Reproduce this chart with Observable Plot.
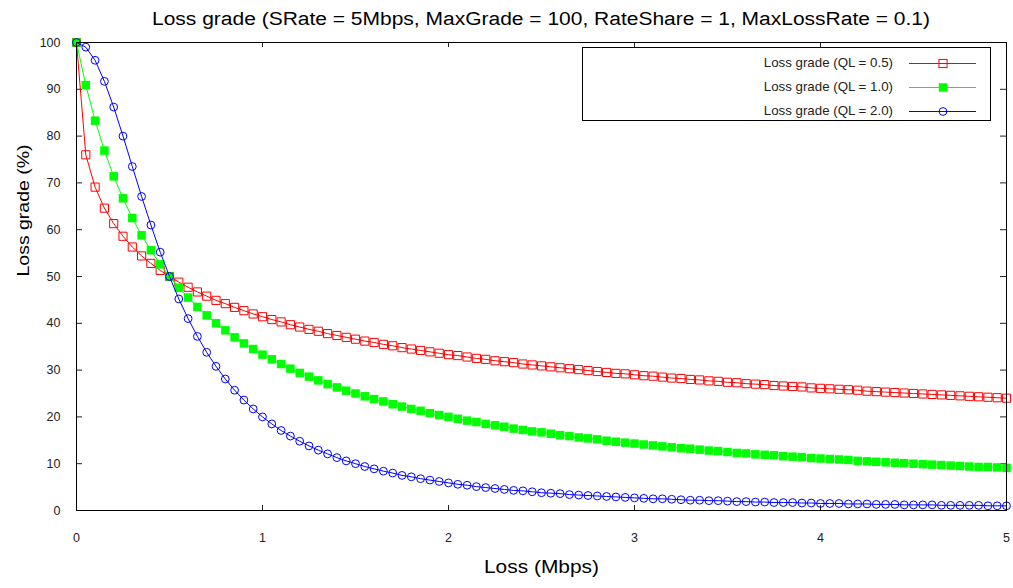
<!DOCTYPE html>
<html>
<head>
<meta charset="utf-8">
<script src="https://cdn.jsdelivr.net/npm/d3@7"></script>
<script src="https://cdn.jsdelivr.net/npm/@observablehq/plot@0.6"></script>
<style>
  html, body { margin: 0; padding: 0; background: #fff; }
  body { font-family: "Liberation Sans", Arial, sans-serif; }
  #wrap { position: relative; width: 1013px; height: 588px; overflow: hidden; }
  #wrap svg { display: block; }
  #legend { position: absolute; left: 582px; top: 47px; width: 409px; height: 74px; box-sizing: border-box;
            border: 1px solid #000; background: #fff; }
  #legend .lbl { position: absolute; left: 0; width: 310px; height: 16px; line-height: 16px; text-align: right;
                 font-size: 13.3px; color: #222; white-space: nowrap; }
  #legend .sym { position: absolute; left: 326px; width: 67px; height: 16px; }
</style>
</head>
<body>
<div id="wrap"></div>
<script>
// ---------- data ----------
const titleText = "Loss grade (SRate = 5Mbps, MaxGrade = 100, RateShare = 1, MaxLossRate = 0.1)";
const xLabel = "Loss (Mbps)";
const yLabel = "Loss grade (%)";
const xTicks = [0, 1, 2, 3, 4, 5];
const yTicks = [0, 10, 20, 30, 40, 50, 60, 70, 80, 90, 100];

const lossMbps = [0,0.05,0.1,0.15,0.2,0.25,0.3,0.35,0.4,0.45,0.5,0.55,0.6,0.65,0.7,0.75,0.8,0.85,0.9,0.95,
  1,1.05,1.1,1.15,1.2,1.25,1.3,1.35,1.4,1.45,1.5,1.55,1.6,1.65,1.7,1.75,1.8,1.85,1.9,1.95,
  2,2.05,2.1,2.15,2.2,2.25,2.3,2.35,2.4,2.45,2.5,2.55,2.6,2.65,2.7,2.75,2.8,2.85,2.9,2.95,
  3,3.05,3.1,3.15,3.2,3.25,3.3,3.35,3.4,3.45,3.5,3.55,3.6,3.65,3.7,3.75,3.8,3.85,3.9,3.95,
  4,4.05,4.1,4.15,4.2,4.25,4.3,4.35,4.4,4.45,4.5,4.55,4.6,4.65,4.7,4.75,4.8,4.85,4.9,4.95,5];

const gradeQL05 = [100,76.0,69.1,64.6,61.3,58.6,56.3,54.4,52.8,51.3,50,48.8,47.7,46.7,45.8,44.9,44.2,43.4,42.7,42.0,
  41.4,40.8,40.3,39.7,39.2,38.7,38.3,37.8,37.4,37.0,36.6,36.2,35.9,35.5,35.2,34.8,34.5,34.2,33.9,33.6,
  33.3,33.1,32.8,32.5,32.3,32.0,31.8,31.6,31.3,31.1,30.9,30.7,30.5,30.3,30.1,29.9,29.7,29.5,29.3,29.2,
  29.0,28.8,28.7,28.5,28.3,28.2,28.0,27.9,27.7,27.6,27.4,27.3,27.1,27.0,26.9,26.7,26.6,26.5,26.4,26.2,
  26.1,26.0,25.9,25.8,25.7,25.5,25.4,25.3,25.2,25.1,25.0,24.9,24.8,24.7,24.6,24.5,24.4,24.3,24.2,24.1,24.0];

const gradeQL10 = [100,90.9,83.3,76.9,71.4,66.7,62.5,58.8,55.6,52.6,50,47.6,45.5,43.5,41.7,40,38.5,37.0,35.7,34.5,
  33.3,32.3,31.3,30.3,29.4,28.6,27.8,27.0,26.3,25.6,25,24.4,23.8,23.3,22.7,22.2,21.7,21.3,20.8,20.4,
  20,19.6,19.2,18.9,18.5,18.2,17.9,17.5,17.2,16.9,16.7,16.4,16.1,15.9,15.6,15.4,15.2,14.9,14.7,14.5,
  14.3,14.1,13.9,13.7,13.5,13.3,13.2,13.0,12.8,12.7,12.5,12.3,12.2,12.0,11.9,11.8,11.6,11.5,11.4,11.2,
  11.1,11.0,10.9,10.8,10.6,10.5,10.4,10.3,10.2,10.1,10,9.9,9.8,9.7,9.6,9.5,9.4,9.3,9.3,9.2,9.1];

const gradeQL20 = [100,99.0,96.2,91.7,86.2,80,73.5,67.1,61.0,55.2,50,45.2,41.0,37.2,33.8,30.8,28.1,25.7,23.6,21.7,
  20,18.5,17.1,15.9,14.8,13.8,12.9,12.1,11.3,10.6,10,9.4,8.9,8.4,8.0,7.5,7.2,6.8,6.5,6.2,
  5.9,5.6,5.4,5.1,4.9,4.7,4.5,4.3,4.2,4.0,3.8,3.7,3.6,3.4,3.3,3.2,3.1,3.0,2.9,2.8,
  2.7,2.6,2.5,2.5,2.4,2.3,2.2,2.2,2.1,2.1,2.0,1.9,1.9,1.8,1.8,1.7,1.7,1.7,1.6,1.6,
  1.5,1.5,1.5,1.4,1.4,1.4,1.3,1.3,1.3,1.2,1.2,1.2,1.2,1.1,1.1,1.1,1.1,1.1,1.0,1.0,1.0];

const seriesNames = ["Loss grade (QL = 0.5)", "Loss grade (QL = 1.0)", "Loss grade (QL = 2.0)"];
const seriesColors = ["#ff0000", "#00ff00", "#0000ff"];
const seriesSymbols = ["square", "square", "circle"];
const seriesFilled = [false, true, false];
const seriesR = [4.6, 4.8, 3.9];

// ---------- build ----------
const seriesValues = [gradeQL05, gradeQL10, gradeQL20];
const rows = seriesValues.map((vals, k) => lossMbps.map((x, i) => ({x, y: vals[i], k})));

const W = 1013, H = 554, mL = 76, mR = 7, mT = 8, mB = 78;
const fw = W - mL - mR, fh = H - mT - mB;
const font = "'Liberation Sans', Arial, sans-serif";

const wrap = document.getElementById("wrap");

// title (above the chart svg)
const tsvg = d3.create("svg").attr("width", W).attr("height", 34);
tsvg.append("text").attr("x", 541).attr("y", 25).attr("text-anchor", "middle")
  .attr("font-family", font).attr("font-size", 18).attr("fill", "#000")
  .attr("textLength", 778).attr("lengthAdjust", "spacingAndGlyphs").text(titleText);
wrap.appendChild(tsvg.node());

const marks = [
  Plot.axisX({ticks: xTicks, tickFormat: d => String(d), tickSize: 0, tickPadding: 23, label: null, fontSize: 12.5, fill: "#222"}),
  Plot.axisY({ticks: yTicks, tickFormat: d => String(d), tickSize: 0, tickPadding: 16, label: null, fontSize: 12.5, fill: "#222"}),
  Plot.tickX(xTicks, {x: d => d, insetTop: fh - 5, stroke: "#222"}),
  Plot.tickX(xTicks, {x: d => d, insetBottom: fh - 5, stroke: "#222"}),
  Plot.tickY(yTicks, {y: d => d, insetRight: fw - 6, stroke: "#222"}),
  Plot.tickY(yTicks, {y: d => d, insetLeft: fw - 6, stroke: "#222"}),
  Plot.text([xLabel], {text: d => d, frameAnchor: "bottom", dy: 62, fontSize: 18, fill: "#000"}),
  Plot.text([yLabel], {text: d => d, frameAnchor: "left", dx: -53, rotate: -90, fontSize: 17, fill: "#000"})
];
rows.forEach((data, k) => {
  marks.push(Plot.line(data, {x: "x", y: "y", stroke: seriesColors[k], strokeWidth: 1}));
  marks.push(Plot.dot(data, {
    x: "x", y: "y", symbol: seriesSymbols[k], r: seriesR[k],
    stroke: seriesFilled[k] ? "none" : seriesColors[k],
    fill: seriesFilled[k] ? seriesColors[k] : "none",
    strokeWidth: 1
  }));
});
marks.push(Plot.frame({stroke: "#000", strokeWidth: 1}));

const chart = Plot.plot({
  width: W, height: H,
  marginLeft: mL, marginRight: mR, marginTop: mT, marginBottom: mB,
  style: {fontFamily: font, fontSize: "12.5px", background: "#fff", color: "#222", overflow: "visible"},
  x: {domain: [0, 5], type: "linear"},
  y: {domain: [0, 100], type: "linear"},
  marks
});
wrap.appendChild(chart);

// stretch axis labels to the reference's measured widths
d3.select(chart).selectAll("text").each(function () {
  const t = this.textContent;
  if (t === xLabel) d3.select(this).attr("textLength", 115).attr("lengthAdjust", "spacingAndGlyphs");
  if (t === yLabel) d3.select(this).attr("textLength", 132).attr("lengthAdjust", "spacingAndGlyphs");
});

// legend (inside the plot box, top right)
const legend = document.createElement("div");
legend.id = "legend";
const rowCenters = [15, 39, 63];
seriesNames.forEach((name, k) => {
  const lbl = document.createElement("div");
  lbl.className = "lbl";
  lbl.style.top = (rowCenters[k] - 8) + "px";
  lbl.textContent = name;
  legend.appendChild(lbl);
  const s = d3.create("svg").attr("class", "sym").attr("width", 67).attr("height", 16)
    .style("top", (rowCenters[k] - 8) + "px");
  s.append("rect").attr("x", 0).attr("y", 8).attr("width", 67).attr("height", 1)
    .attr("fill", seriesColors[k]).attr("stroke", "none");
  if (seriesSymbols[k] === "circle") {
    s.append("circle").attr("cx", 34).attr("cy", 8.5).attr("r", seriesR[k])
      .attr("fill", "none").attr("stroke", seriesColors[k]).attr("stroke-width", 1);
  } else {
    const side = seriesR[k] * Math.sqrt(Math.PI);
    s.append("rect").attr("x", 34 - side / 2).attr("y", 8.5 - side / 2).attr("width", side).attr("height", side)
      .attr("fill", seriesFilled[k] ? seriesColors[k] : "none")
      .attr("stroke", seriesFilled[k] ? "none" : seriesColors[k]).attr("stroke-width", 1);
  }
  legend.appendChild(s.node());
});
wrap.appendChild(legend);
</script>
</body>
</html>
